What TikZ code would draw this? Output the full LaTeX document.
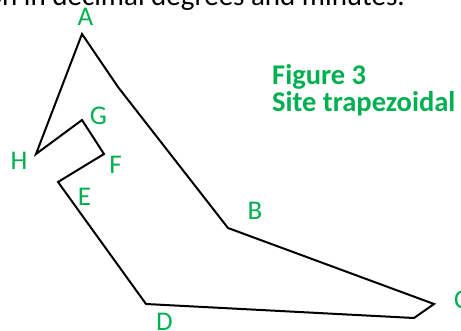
\documentclass[tikz,border=0pt]{standalone}
\usepackage{fontspec}
\setmainfont{Carlito}
\definecolor{wgreen}{HTML}{00B050}
\begin{document}
\begin{tikzpicture}[x=1pt,y=-1pt,
  edge/.style={line width=2pt, line join=miter, draw=black},
  lbl/.style={text=wgreen, font=\fontsize{27}{27}\selectfont, inner sep=0pt},
  ttl/.style={text=wgreen, font=\fontsize{28.5}{28.5}\selectfont\bfseries, inner sep=0pt, anchor=base west},
  hdrtext/.style={text=black, font=\fontsize{29}{29}\selectfont, inner sep=0pt, anchor=base east}]
\useasboundingbox (0,0) rectangle (461,331);
\node[hdrtext] (hdr) at (405,5.5) {on in decimal degrees and minutes.};
% vertices
\coordinate (A) at (82,34);
\coordinate (K) at (118,87);
\coordinate (B) at (228,228);
\coordinate (C) at (434,304);
\coordinate (C2) at (414,318);
\coordinate (D) at (146,304);
\coordinate (E) at (58,182);
\coordinate (F) at (104,154);
\coordinate (G) at (82,120);
\coordinate (H) at (36,154);
\draw[edge] (A) -- (K) -- (B) -- (C) -- (C2) -- (D) -- (E) -- (F) -- (G) -- (H) -- cycle;
% labels
\node[lbl] (lA) at (85.5,16.7) {A};
\node[lbl] (lB) at (255,210.5) {B};
\node[lbl, anchor=west] (lC) at (454,300) {C};
\node[lbl] (lD) at (164.5,321.7) {D};
\node[lbl] (lE) at (84.5,196.7) {E};
\node[lbl] (lF) at (115.5,164.5) {F};
\node[lbl] (lG) at (98.3,115.7) {G};
\node[lbl] (lH) at (19,161) {H};
\node[ttl] (t1) at (272,84.5) {Figure 3};
\node[ttl] (t2) at (272,111.5) {Site trapezoidal};
\end{tikzpicture}
\end{document}
